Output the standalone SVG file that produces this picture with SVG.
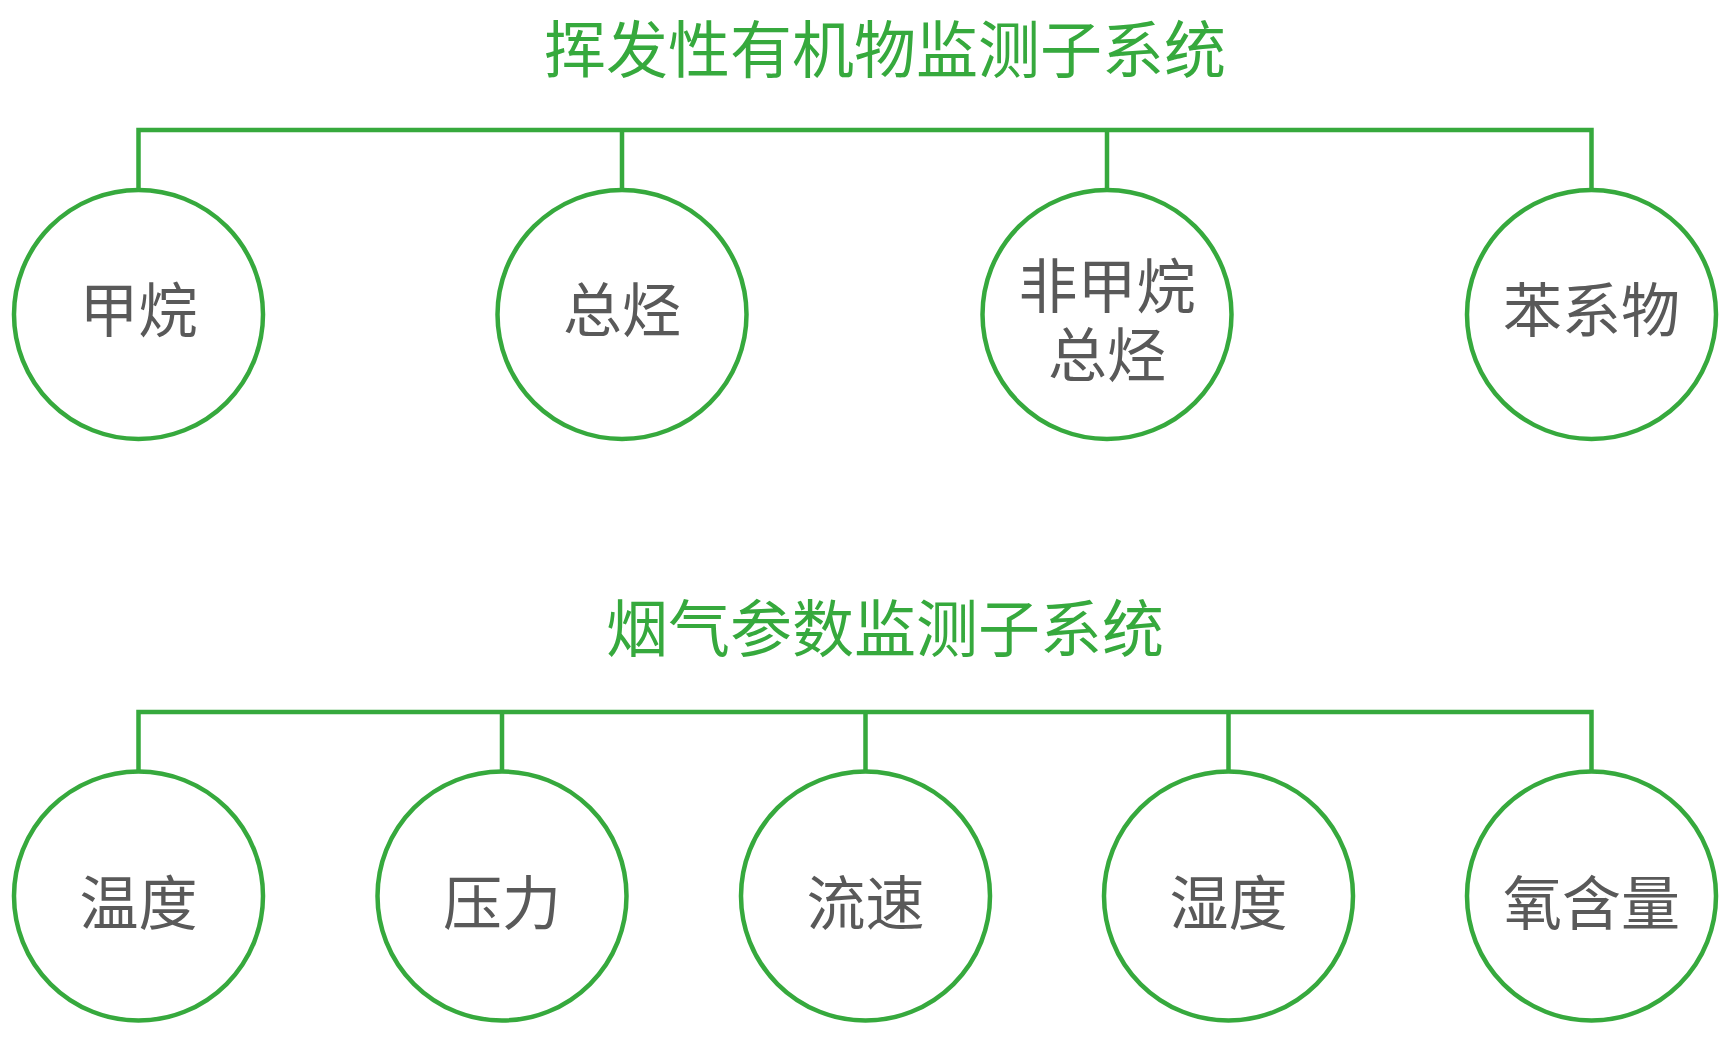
<svg xmlns="http://www.w3.org/2000/svg" width="1730" height="1042" viewBox="0 0 1730 1042">
<style>
.title{font-family:"Noto Sans CJK SC","Noto Sans",sans-serif;font-size:62px;fill:#36a93d;text-anchor:middle}
.lbl{font-family:"Noto Sans CJK SC","Noto Sans",sans-serif;font-size:59px;fill:#595959;text-anchor:middle}
.node{fill:#ffffff;stroke:#36a93d;stroke-width:4.5}
.conn{fill:none;stroke:#36a93d;stroke-width:4.5}
</style>
<rect width="1730" height="1042" fill="#ffffff"/>
<g id="titles">
<text id="title-voc" class="title" x="885" y="73">挥发性有机物监测子系统</text>
<text id="title-flue" class="title" x="885" y="652">烟气参数监测子系统</text>
</g>
<g id="connectors">
<path class="conn" d="M138.5,190 V130 H1591.5 V190 M622,130 V190 M1107,130 V190"/>
<path class="conn" d="M138.5,772 V712 H1591.5 V772 M502,712 V772 M865.5,712 V772 M1228.5,712 V772"/>
</g>
<g id="n-methane"><circle class="node" cx="138.5" cy="314.5" r="124.5"/><text class="lbl" x="138.5" y="332">甲烷</text></g>
<g id="n-thc"><circle class="node" cx="622" cy="314.5" r="124.5"/><text class="lbl" x="622" y="332">总烃</text></g>
<g id="n-nmhc"><circle class="node" cx="1107" cy="314.5" r="124.5"/><text class="lbl" x="1107" y="308"><tspan x="1107" y="308">非甲烷</tspan><tspan x="1107" y="377">总烃</tspan></text></g>
<g id="n-benzene"><circle class="node" cx="1591.5" cy="314.5" r="124.5"/><text class="lbl" x="1591.5" y="332">苯系物</text></g>
<g id="n-temp"><circle class="node" cx="138.5" cy="896" r="124.5"/><text class="lbl" x="138.5" y="925">温度</text></g>
<g id="n-pressure"><circle class="node" cx="502" cy="896" r="124.5"/><text class="lbl" x="502" y="925">压力</text></g>
<g id="n-flow"><circle class="node" cx="865.5" cy="896" r="124.5"/><text class="lbl" x="865.5" y="925">流速</text></g>
<g id="n-humidity"><circle class="node" cx="1228.5" cy="896" r="124.5"/><text class="lbl" x="1228.5" y="925">湿度</text></g>
<g id="n-oxygen"><circle class="node" cx="1591.5" cy="896" r="124.5"/><text class="lbl" x="1591.5" y="925">氧含量</text></g>
</svg>
